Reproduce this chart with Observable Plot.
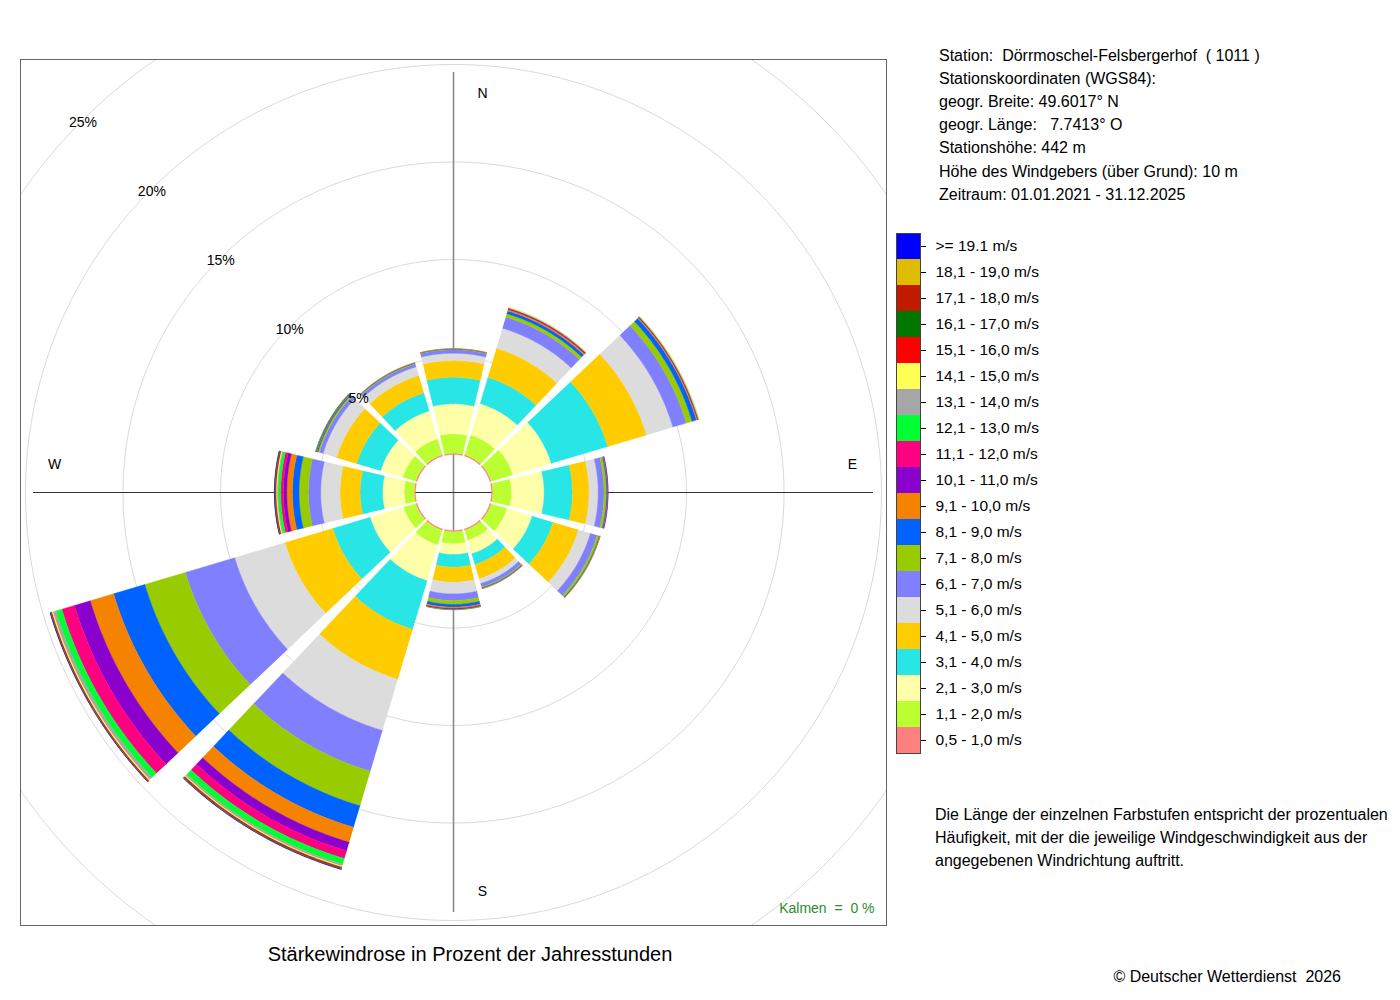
<!DOCTYPE html>
<html><head><meta charset="utf-8">
<script src="https://cdn.jsdelivr.net/npm/d3@7"></script>
<script src="https://cdn.jsdelivr.net/npm/@observablehq/plot@0.6"></script>
<style>
body{margin:0;background:#fff;font-family:"Liberation Sans",Arial,sans-serif;color:#000;}
#wrap{position:relative;width:1400px;height:1000px;overflow:hidden;}
.abs{position:absolute;white-space:pre;}
</style></head><body>
<div id="wrap">
  <div id="rose" class="abs" style="left:0;top:0"></div>
  <div id="legend" class="abs" style="left:895px;top:232px"></div>
  <div class="abs" style="left:939px;top:43.5px;font-size:16px;line-height:23.2px">Station:  Dörrmoschel-Felsbergerhof  ( 1011 )
Stationskoordinaten (WGS84):
geogr. Breite: 49.6017° N
geogr. Länge:   7.7413° O
Stationshöhe: 442 m
Höhe des Windgebers (über Grund): 10 m
Zeitraum: 01.01.2021 - 31.12.2025</div>
  <div class="abs" style="left:935px;top:802.5px;font-size:16px;line-height:23px">Die Länge der einzelnen Farbstufen entspricht der prozentualen
Häufigkeit, mit der die jeweilige Windgeschwindigkeit aus der
angegebenen Windrichtung auftritt.</div>
  <div class="abs" style="left:70px;width:800px;top:942px;font-size:20px;line-height:24px;text-align:center">Stärkewindrose in Prozent der Jahresstunden</div>
  <div class="abs" style="right:59px;top:967px;font-size:16px;line-height:20px;text-align:right">© Deutscher Wetterdienst  2026</div>
</div>
<script>
// ---- data ----
const speedClasses = ["0,5 - 1,0 m/s","1,1 - 2,0 m/s","2,1 - 3,0 m/s","3,1 - 4,0 m/s","4,1 - 5,0 m/s",
  "5,1 - 6,0 m/s","6,1 - 7,0 m/s","7,1 - 8,0 m/s","8,1 - 9,0 m/s","9,1 - 10,0 m/s",
  "10,1 - 11,0 m/s","11,1 - 12,0 m/s","12,1 - 13,0 m/s","13,1 - 14,0 m/s","14,1 - 15,0 m/s",
  "15,1 - 16,0 m/s","16,1 - 17,0 m/s","17,1 - 18,0 m/s","18,1 - 19,0 m/s",">= 19.1 m/s"];
const classColors = ["#FF8080","#BBFF33","#FFFFAA","#28E6E6","#FFCC00",
  "#DCDCDC","#8080FF","#99CC00","#0062FF","#F58300",
  "#8A00CC","#FF0080","#00FF33","#A6A6A6","#FFFF55",
  "#FF0000","#007700","#C01A00","#E0BC00","#0000FF"];
const directions = [0, 30, 60, 90, 120, 150, 180, 210, 240, 270, 300, 330];
// percent of hours per speed class (inner to outer) for each direction
const dir000 = [0.07,0.99,1.54,1.36,0.86,0.37,0.18,0.03,0.02,0.01,0,0,0,0,0,0,0,0,0,0];
const dir030 = [0.07,1.06,1.68,1.40,1.56,1.07,0.60,0.18,0.15,0.08,0.04,0.03,0.02,0.01,0.01,0,0,0,0,0];
const dir060 = [0.07,1.16,2.05,3.03,2.07,1.41,0.72,0.31,0.23,0.06,0.03,0.02,0.02,0.01,0.01,0,0,0,0,0];
const dir090 = [0.07,0.96,1.67,1.45,0.85,0.47,0.30,0.13,0.05,0.02,0.01,0,0,0,0,0,0,0,0,0];
const dir120 = [0.07,0.85,1.34,1.12,1.36,0.64,0.36,0.11,0.04,0.02,0,0,0,0,0,0,0,0,0,0];
const dir150 = [0.07,0.55,0.71,0.57,0.77,0.25,0.18,0.05,0.04,0.02,0,0,0,0,0,0,0,0,0,0];
const dir180 = [0.07,0.61,0.55,0.65,0.77,0.60,0.34,0.20,0.14,0.07,0.04,0.02,0.01,0,0,0,0,0,0,0];
const dir210 = [0.07,0.80,1.90,2.61,2.67,2.74,2.18,1.85,1.15,0.80,0.46,0.41,0.31,0.10,0.05,0.05,0.03,0.02,0.01,0.01];
const dir240 = [0.07,0.65,1.79,2.00,2.56,2.69,2.64,2.17,1.67,1.25,0.84,0.68,0.32,0.16,0.06,0.04,0.02,0.01,0.01,0.01];
const dir270 = [0.07,0.51,1.11,1.15,1.03,0.99,0.63,0.48,0.34,0.29,0.17,0.14,0.14,0.05,0.05,0.04,0.02,0.01,0.01,0.01];
const dir300 = [0.07,0.70,1.18,1.28,1.08,0.72,0.20,0.08,0.05,0.03,0.02,0.01,0.01,0,0,0,0,0,0,0];
const dir330 = [0.07,0.85,1.49,0.97,0.93,0.46,0.15,0.04,0.03,0.01,0,0,0,0,0,0,0,0,0,0];
const gridTicks = [5, 10, 15, 20, 25];
const compass = [{t:"N",a:0},{t:"E",a:90},{t:"S",a:180},{t:"W",a:270}];
const calmText = "Kalmen\u00a0\u00a0=\u00a0\u00a00 %";

// ---- geometry helpers (all positions go through Plot's x/y scales) ----
const dirValues = [dir000,dir030,dir060,dir090,dir120,dir150,dir180,dir210,dir240,dir270,dir300,dir330];
const PX = 19.5;             // pixels per percent
const hole = 38 / PX;        // inner calm circle radius in percent units
const L = 433 / PX;          // half-size of the frame
const halfWidth = 13.4;      // half sector width in degrees
const rad = d => d * Math.PI / 180;

const segs = [];
dirValues.forEach((vals, i) => {
  const c = directions[i];
  let cum = 0;
  vals.forEach((v, k) => {
    if (v > 0) {
      const r1 = hole + cum, r2 = hole + cum + v, id = i * 100 + k, n = 48;
      for (let j = 0; j <= n; j++) {
        const a = rad(c - halfWidth + 2 * halfWidth * j / n);
        segs.push({k, id, x: r2 * Math.sin(a), y: r2 * Math.cos(a)});
      }
      for (let j = n; j >= 0; j--) {
        const a = rad(c - halfWidth + 2 * halfWidth * j / n);
        segs.push({k, id, x: r1 * Math.sin(a), y: r1 * Math.cos(a)});
      }
    }
    cum += v;
  });
});

const gridPts = [];
gridTicks.forEach(t => {
  const r = hole + t;
  for (let j = 0; j <= 360; j++) gridPts.push({t, x: r * Math.sin(rad(j)), y: r * Math.cos(rad(j))});
});

const AX = 420 / PX;
const labelR = 399 / PX;
const font = "Liberation Sans, Arial, Helvetica, sans-serif";

const classMarks = speedClasses.map((s, k) =>
  Plot.line(segs.filter(d => d.k === k), {x: "x", y: "y", z: "id", fill: classColors[k], stroke: classColors[k], strokeWidth: 0.4, curve: "linear"})
);

const rose = Plot.plot({
  width: 906, height: 1000,
  marginLeft: 20, marginRight: 20, marginTop: 59, marginBottom: 75,
  x: {domain: [-L, L], axis: null},
  y: {domain: [-L, L], axis: null},
  style: {fontFamily: font, fontSize: "13px", background: "transparent", color: "#000"},
  marks: [
    Plot.line(gridPts, {x: "x", y: "y", z: "t", stroke: "#dadada", strokeWidth: 1, clip: true}),
    Plot.ruleX([0], {y1: -AX, y2: AX, stroke: "#8c8c8c", strokeWidth: 1.6}),
    Plot.ruleY([0], {x1: -AX, x2: AX, stroke: "#333", strokeWidth: 1}),
    ...classMarks,
    Plot.text(gridTicks, {x: t => (hole + t) * Math.sin(rad(315)), y: t => (hole + t) * Math.cos(rad(315)), text: t => t + "%", dx: 1, dy: 1.5, fontSize: 14, fill: "#000"}),
    Plot.text(compass.filter(d => d.a % 180 === 0), {x: d => labelR * Math.sin(rad(d.a)), y: d => labelR * Math.cos(rad(d.a)), text: "t", dx: 29, fontSize: 14, fill: "#000"}),
    Plot.text(compass.filter(d => d.a % 180 !== 0), {x: d => labelR * Math.sin(rad(d.a)), y: d => labelR * Math.cos(rad(d.a)), text: "t", dy: -28, fontSize: 14, fill: "#000"}),
    Plot.text([calmText], {frameAnchor: "bottom-right", textAnchor: "end", dx: -12, dy: -13, fontSize: 14, fill: "#2e8b2e"}),
    Plot.frame({stroke: "#666"})
  ]
});
document.getElementById("rose").append(rose);

const legendRows = speedClasses.map((label, k) => ({label, color: classColors[k]}));
const legend = Plot.plot({
  width: 185, height: 522,
  marginLeft: 1, marginRight: 160, marginTop: 1, marginBottom: 1,
  x: {axis: null},
  y: {domain: speedClasses.slice().reverse(), padding: 0, axis: "right", tickSize: 5, tickPadding: 10, label: null},
  color: {type: "identity"},
  style: {fontFamily: font, fontSize: "15.5px", background: "transparent", color: "#000", overflow: "visible"},
  marks: [
    Plot.cell(legendRows, {y: "label", fill: "color"}),
    Plot.frame({stroke: "#444"})
  ]
});
document.getElementById("legend").append(legend);
</script>
</body></html>
